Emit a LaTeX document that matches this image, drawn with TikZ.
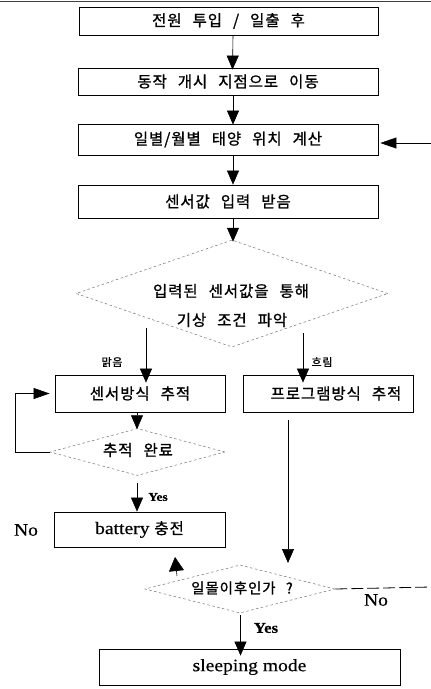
\documentclass[tikz,border=0pt]{standalone}
\usepackage{fontspec}
\setmainfont{Liberation Serif}[FakeStretch=1.12,FakeBold=0.4]
\newfontfamily\kr[LetterSpace=6,WordSpace=2.5,FakeBold=1]{Noto Sans CJK KR}
\usetikzlibrary{arrows.meta,shapes.geometric}
\begin{document}
\begin{tikzpicture}[x=1pt,y=-1pt,
  box/.style={draw,line width=0.8pt,inner sep=0pt,font=\kr\fontsize{15.5}{17}\selectfont},
  dia/.style={diamond,draw=black!55,line width=0.5pt,dash pattern=on 2.5pt off 2.5pt,inner sep=0pt},
  arr/.style={line width=0.6pt,-{Triangle[length=14pt,width=12pt]}},
  arrbig/.style={line width=0.6pt,-{Triangle[length=16pt,width=11pt]}},
  txt/.style={font=\kr\fontsize{15.5}{17}\selectfont,inner sep=0pt,align=center},
  smallkr/.style={font=\kr\fontsize{11}{12}\selectfont,inner sep=0pt},
  lab/.style={font=\fontsize{17.5}{19}\selectfont,inner sep=0pt},
  loopline/.style={line width=0.6pt}]
\useasboundingbox (0,0) rectangle (431,689);
\fill[white] (0,0) rectangle (431,689);
% top border
\draw[line width=0.7pt,black!75] (0,1) -- (431,1);
% boxes
\node[box,minimum width=299pt,minimum height=28pt] (b1) at (228.5,21) {전원 투입 / 일출 후};
\node[box,minimum width=300pt,minimum height=27pt] (b2) at (228,81.5) {동작 개시 지점으로 이동};
\node[box,minimum width=300pt,minimum height=31pt] (b3) at (228,139.5) {일별/월별 태양 위치 계산};
\node[box,minimum width=300pt,minimum height=33pt] (b4) at (228,201.5) {센서값 입력 받음};
% diamond 1
\node[dia,minimum width=312pt,minimum height=107pt] (d1) at (232,293.5) {};
\node[txt] (d1a) at (231,291) {입력된 센서값을 통해};
\node[txt] (d1b) at (232,320) {기상 조건 파악};
% branch boxes
\node[box,minimum width=170pt,minimum height=37pt] (L) at (140,393.5) {센서방식 추적};
\node[box,minimum width=170pt,minimum height=37pt] (R) at (328,393.5) {\hspace*{16pt}프로그램방식 추적};
\node[smallkr] (clear) at (112,362) {맑음};
\node[smallkr] (cloud) at (322,362) {흐림};
% diamond 2
\node[dia,minimum width=175pt,minimum height=47pt] (d2) at (137.5,452) {};
\node[txt] (d2t) at (138,450) {추적 완료};
% battery box
\node[box,minimum width=171pt,minimum height=35pt,font=\fontsize{17.5}{19}\selectfont] (B) at (139.5,529.5) {battery {\kr\fontsize{15.5}{17}\selectfont 충전}};
\node[inner sep=0pt,font=\fontsize{12}{14}\selectfont\bfseries] (yes1) at (158,497) {Yes};
\node[lab] (no1) at (26,530) {No};
% diamond 3
\node[dia,minimum width=190pt,minimum height=48pt] (d3) at (240,589) {};
\node[txt,font=\kr\fontsize{14.5}{16}\selectfont] (d3t) at (242,588) {일몰이후인가 ?};
\node[lab] (no2) at (376,600) {No};
% sleeping box
\node[box,minimum width=301pt,minimum height=36pt,font=\fontsize{17.5}{19}\selectfont] (S) at (249.5,667) {sleeping mode};
\node[inner sep=0pt,font=\fontsize{15}{17}\selectfont\bfseries] (yes2) at (266,628) {Yes};
% main arrows
\draw[arr] ([xshift=4.5pt]b1.south) -- ([xshift=4.5pt,yshift=-2pt]b2.north);
\draw[arr] ([xshift=5pt]b2.south) -- ([xshift=5pt,yshift=-1pt]b3.north);
\draw[arr] ([xshift=5pt]b3.south) -- ([xshift=5pt]b4.north);
\draw[arr] ([xshift=5pt]b4.south) -- ([xshift=1pt,yshift=-2pt]d1.north);
\coordinate (s1) at (146,328);
\coordinate (s2) at (303,333);
\draw[arr] (s1) -- ([yshift=-8pt]s1 |- L.north);
\draw[arr] (s2) -- ([yshift=-8pt]s2 |- R.north);
\draw[arr] ([xshift=-3pt]L.south) -- ([xshift=-0.5pt,yshift=-1pt]d2.north);
\coordinate (s3) at (137,483);
\draw[arr] (s3) -- (s3 |- B.north);
\coordinate (s4) at (288,420);
\coordinate (e4) at (288,563);
\draw[arr] (s4) -- (e4);
\coordinate (s5) at (240.5,615);
\draw[arr] (s5) -- ([yshift=-7pt]s5 |- S.north);
\coordinate (s6) at (177,576);
\coordinate (e6) at (175,557);
\draw[line width=0.6pt,-{Triangle[length=14pt,width=15pt]}] (s6) -- (e6);
% loops
\coordinate (lc) at (15,452);
\draw[loopline,-{Triangle[length=16pt,width=11pt]}] (d2.west) -- (lc) |- ([xshift=-5pt]L.west);
\coordinate (rc) at (431,587);
\draw[line width=0.8pt,dash pattern=on 12pt off 4pt] (d3.east) -- (rc);
\coordinate (rt) at (431,143);
\draw[arrbig] (rt) -- ([xshift=2pt]b3.east |- rt);
\end{tikzpicture}
\end{document}
